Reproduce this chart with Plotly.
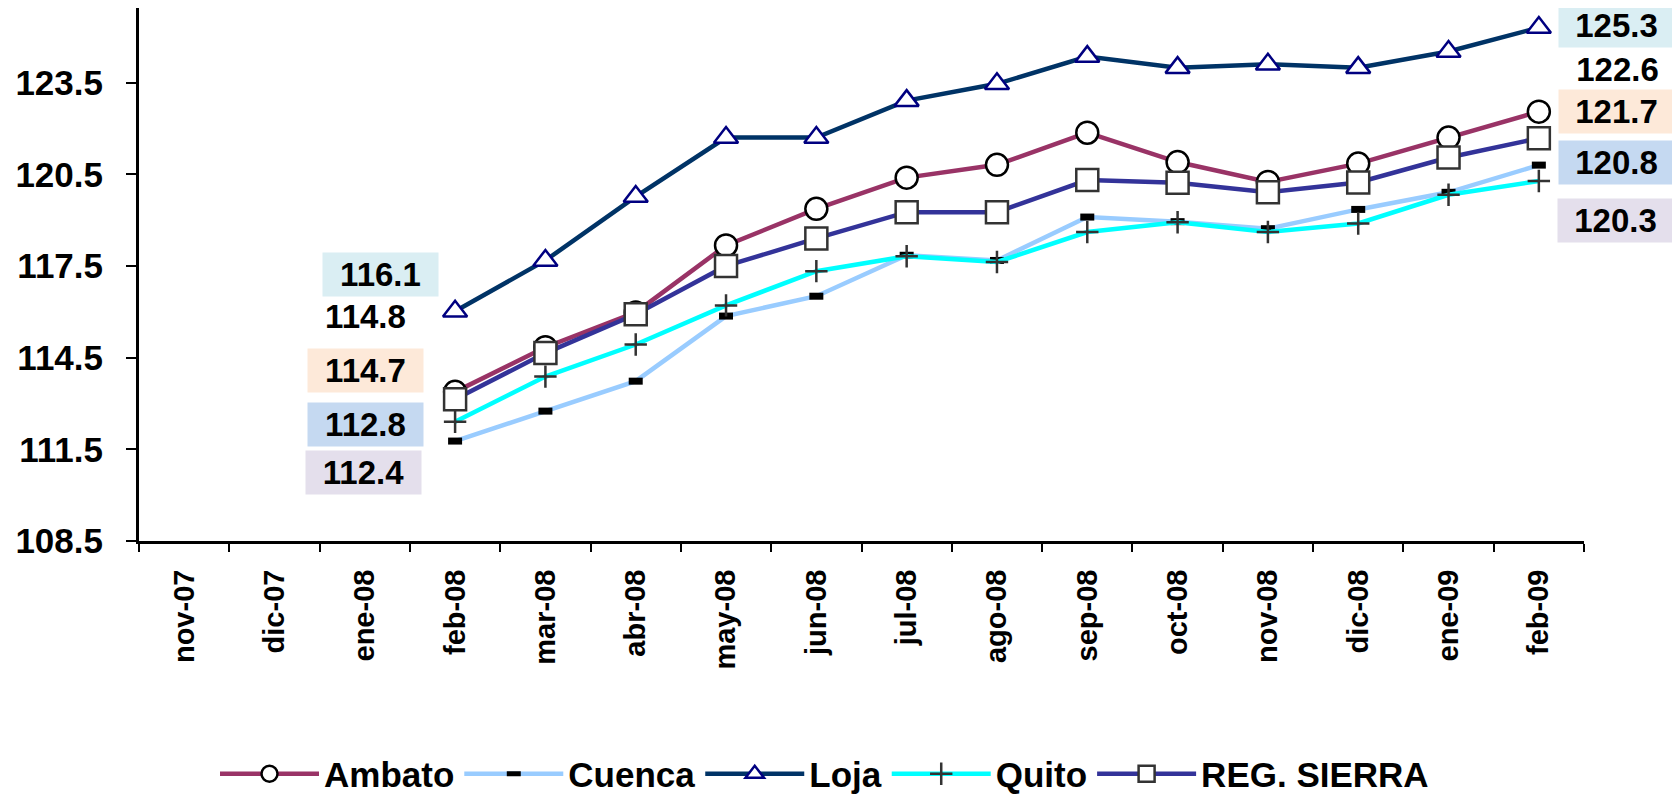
import plotly.graph_objects as go

months = ["nov-07", "dic-07", "ene-08", "feb-08", "mar-08", "abr-08", "may-08", "jun-08",
          "jul-08", "ago-08", "sep-08", "oct-08", "nov-08", "dic-08", "ene-09", "feb-09"]

ambato = [None, None, None, 113.38, 114.84, 115.98, 118.17, 119.37,
          120.39, 120.81, 121.86, 120.90, 120.25, 120.85, 121.70, 122.55]
cuenca = [None, None, None, 111.77, 112.75, 113.73, 115.86, 116.51,
          117.85, 117.68, 119.10, 118.95, 118.72, 119.35, 119.91, 120.80]
loja = [None, None, None, 116.02, 117.68, 119.77, 121.70, 121.70,
        122.91, 123.46, 124.35, 123.99, 124.10, 123.99, 124.52, 125.30]
quito = [None, None, None, 112.40, 113.88, 114.93, 116.21, 117.33,
         117.82, 117.63, 118.61, 118.93, 118.61, 118.89, 119.83, 120.28]
sierra = [None, None, None, 113.14, 114.65, 115.92, 117.50, 118.40,
          119.26, 119.26, 120.31, 120.22, 119.91, 120.23, 121.05, 121.68]

series_names = ["Ambato", "Cuenca", "Loja", "Quito", "REG. SIERRA"]

left_labels = ["116.1", "114.8", "114.7", "112.8", "112.4"]
right_labels = ["125.3", "122.6", "121.7", "120.8", "120.3"]

y_ticks = [108.5, 111.5, 114.5, 117.5, 120.5, 123.5]

FONT = "Liberation Sans, Arial, sans-serif"

# the page body has an 8px margin, so figure coordinates = screen coordinates - 8
OFF = 8
W, H = 1680 - OFF, 796 - OFF
L, R, T, B = 139 - OFF, 1584 - OFF, 0, 541 - OFF
PX_PER_UNIT = 30.56


def px_x(p):  # screen pixel -> paper x
    return (p - OFF - L) / (R - L)


def px_y(p):  # screen pixel -> paper y
    return (B - (p - OFF)) / (B - T)


styles = [
    dict(line=dict(color="#993366", width=4.5),
         marker=dict(symbol="circle", size=22, color="white", line=dict(color="black", width=2.5))),
    dict(line=dict(color="#99CCFF", width=4.5),
         marker=dict(symbol="line-ew", size=10, color="black", line=dict(color="black", width=7))),
    dict(line=dict(color="#003366", width=4.5),
         marker=dict(symbol="triangle-up", size=21, color="white", line=dict(color="#000080", width=2.5))),
    dict(line=dict(color="#00FFFF", width=4.5),
         marker=dict(symbol="cross-thin", size=16, color="#333333", line=dict(color="#333333", width=2.5))),
    dict(line=dict(color="#333399", width=4.5),
         marker=dict(symbol="square", size=22, color="white", line=dict(color="#333333", width=2.5))),
]

fig = go.Figure()
for name, vals, st in zip(series_names, [ambato, cuenca, loja, quito, sierra], styles):
    fig.add_trace(go.Scatter(x=months, y=vals, name=name, mode="lines+markers",
                             line=st["line"], marker=st["marker"], connectgaps=False,
                             cliponaxis=False))

box_colors = ["#DAEEF3", "rgba(0,0,0,0)", "#FDE9D9", "#C5D9F1", "#E4DFEC"]
left_pos = [(380, 274), (365, 317), (365, 370), (365, 424), (363, 472)]
right_pos = [(1617, 25), (1618, 69), (1617, 111), (1617, 162), (1616, 221)]

annotations = []
for labels, positions in ((left_labels, left_pos), (right_labels, right_pos)):
    for txt, col, (cx, cy) in zip(labels, box_colors, positions):
        annotations.append(dict(text=f"<b>{txt}</b>", x=px_x(cx), y=px_y(cy),
                                xref="paper", yref="paper",
                                showarrow=False, xanchor="center", yanchor="middle",
                                bgcolor=col, width=113, height=41, borderpad=1,
                                font=dict(family=FONT, size=33, color="black")))

fig.update_layout(
    width=W, height=H,
    margin=dict(l=L, r=W - R, t=T, b=H - B, pad=0, autoexpand=False),
    paper_bgcolor="white", plot_bgcolor="white",
    font=dict(family=FONT, color="black"),
    showlegend=True,
    legend=dict(orientation="h", x=px_x(215), xanchor="left", y=px_y(774), yanchor="middle",
                font=dict(family=FONT, size=35, color="black", weight="bold"),
                itemwidth=99, bgcolor="rgba(0,0,0,0)"),
    annotations=annotations,
)

fig.update_xaxes(type="category", categoryorder="array", categoryarray=months,
                 range=[-0.5, len(months) - 0.5], automargin=False,
                 showline=True, linecolor="black", linewidth=3, mirror=False,
                 ticks="outside", tickson="boundaries", ticklen=8, tickwidth=2, tickcolor="black",
                 tickangle=-90, ticklabelstandoff=14,
                 tickfont=dict(family=FONT, size=29, color="black", weight="bold"),
                 showgrid=False, zeroline=False)

fig.update_yaxes(range=[108.5, 108.5 + (B - T) / PX_PER_UNIT], automargin=False,
                 tickmode="array", tickvals=y_ticks, ticktext=[f"{v:.1f}" for v in y_ticks],
                 showline=True, linecolor="black", linewidth=3,
                 ticks="outside", ticklen=10, tickwidth=2, tickcolor="black",
                 ticklabelstandoff=16,
                 tickfont=dict(family=FONT, size=35, color="black", weight="bold"),
                 showgrid=False, zeroline=False)

fig.write_html("out.html")
